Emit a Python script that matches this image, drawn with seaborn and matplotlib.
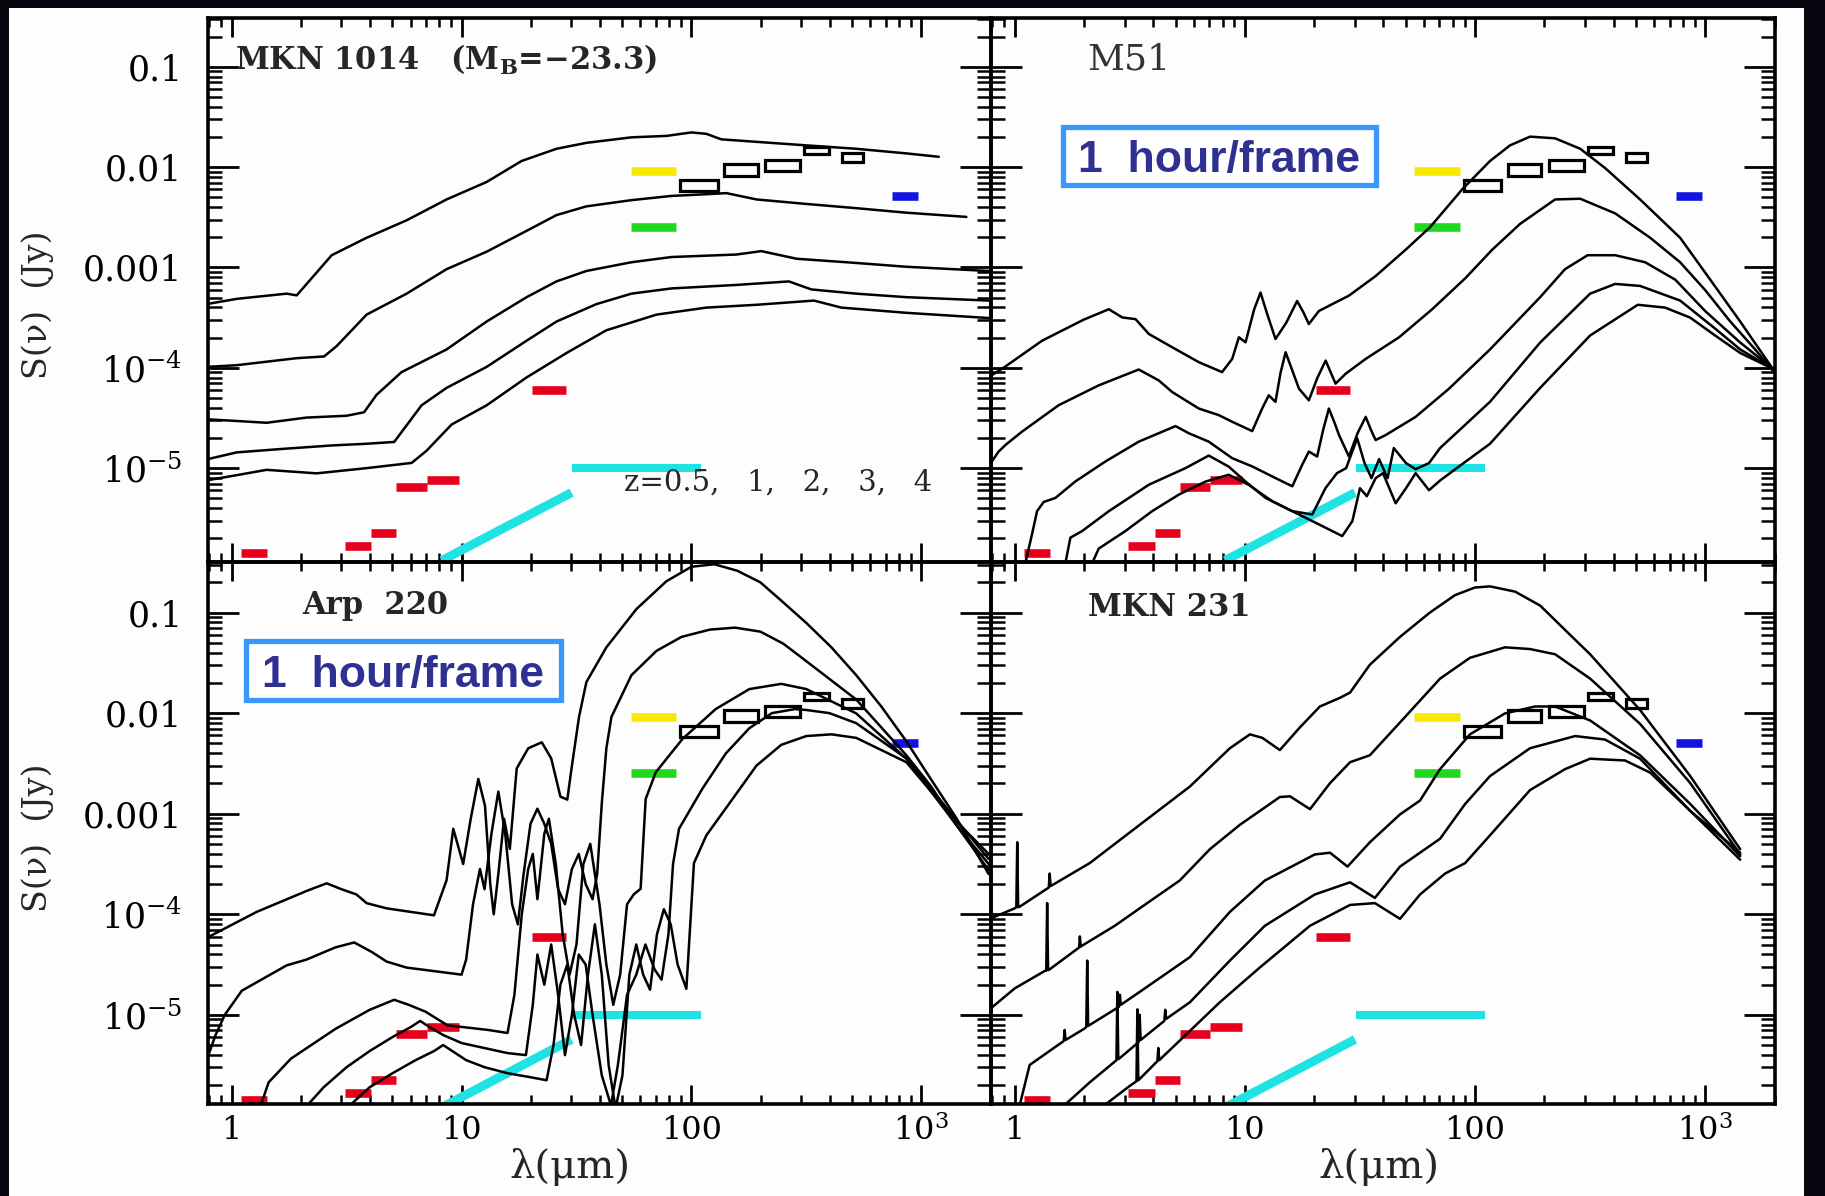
import numpy as np
import pandas as pd
import matplotlib
matplotlib.use("Agg")
import matplotlib.pyplot as plt
from matplotlib.patches import Rectangle
from matplotlib.ticker import FixedLocator, FuncFormatter, LogLocator, NullFormatter
from matplotlib import font_manager
import seaborn as sns

sns.set_theme(style="white")
plt.rcParams["font.family"] = ["DejaVu Serif"]
plt.rcParams["mathtext.fontset"] = "dejavuserif"

# ---------------------------------------------------------------------------
# Model SEDs redshifted to z = 0.5, 1, 2, 3, 4.
# Each curve: (log10 wavelength [micron], log10 S(nu) [Jy]) pairs.
# ---------------------------------------------------------------------------
Z_VALUES = [0.5, 1, 2, 3, 4]

MKN1014_SED = [
    [(-0.109, -3.365), (0.022, -3.313), (0.239, -3.261), (0.283, -3.278), (0.435, -2.878), (0.587, -2.704),
     (0.761, -2.530), (0.935, -2.322), (1.109, -2.148), (1.261, -1.939), (1.413, -1.817), (1.543, -1.758),
     (1.739, -1.703), (1.891, -1.689), (2.0, -1.654), (2.065, -1.668), (2.130, -1.723), (2.283, -1.748),
     (2.5, -1.783), (2.717, -1.817), (2.935, -1.863), (3.076, -1.897)],
    [(-0.109, -3.991), (0.022, -3.974), (0.283, -3.904), (0.402, -3.887), (0.457, -3.783), (0.587, -3.470),
     (0.761, -3.261), (0.935, -3.017), (1.109, -2.843), (1.283, -2.635), (1.413, -2.478), (1.543, -2.391),
     (1.739, -2.329), (1.913, -2.287), (2.065, -2.270), (2.152, -2.259), (2.283, -2.322), (2.5, -2.367),
     (2.717, -2.409), (2.935, -2.454), (3.196, -2.496)],
    [(-0.109, -4.513), (0.022, -4.530), (0.152, -4.548), (0.326, -4.496), (0.5, -4.478), (0.576, -4.443),
     (0.630, -4.270), (0.739, -4.043), (0.935, -3.817), (1.109, -3.539), (1.283, -3.296), (1.413, -3.139),
     (1.543, -3.035), (1.739, -2.948), (1.913, -2.896), (2.196, -2.871), (2.304, -2.837), (2.457, -2.913),
     (2.717, -2.955), (2.935, -2.993), (3.293, -3.035)],
    [(-0.109, -4.913), (0.022, -4.843), (0.217, -4.809), (0.435, -4.774), (0.587, -4.757), (0.707, -4.739),
     (0.826, -4.374), (0.935, -4.2), (1.109, -3.991), (1.283, -3.730), (1.413, -3.539), (1.587, -3.365),
     (1.739, -3.261), (1.913, -3.209), (2.196, -3.174), (2.424, -3.139), (2.522, -3.219), (2.717, -3.261),
     (2.935, -3.296), (3.293, -3.330)],
    [(-0.109, -5.122), (0.022, -5.070), (0.152, -5.017), (0.370, -5.052), (0.587, -5.0), (0.783, -4.948),
     (0.848, -4.826), (0.957, -4.565), (1.109, -4.374), (1.283, -4.096), (1.457, -3.852), (1.630, -3.626),
     (1.848, -3.470), (2.065, -3.4), (2.283, -3.372), (2.533, -3.330), (2.652, -3.400), (2.935, -3.452),
     (3.293, -3.504)],
]

M51_SED = [
    [(-0.104, -4.08), (-0.043, -3.991), (0.119, -3.730), (0.30, -3.52), (0.409, -3.416), (0.467, -3.498),
     (0.525, -3.515), (0.583, -3.663), (0.684, -3.795), (0.8, -3.944), (0.901, -4.043), (0.945, -3.911),
     (0.974, -3.696), (1.003, -3.746), (1.040, -3.42), (1.068, -3.250), (1.095, -3.45), (1.133, -3.713),
     (1.180, -3.55), (1.227, -3.334), (1.255, -3.45), (1.278, -3.564), (1.322, -3.433), (1.452, -3.281),
     (1.568, -3.086), (1.699, -2.822), (1.804, -2.6), (1.946, -2.217), (2.065, -1.939), (2.152, -1.783),
     (2.239, -1.696), (2.348, -1.713), (2.457, -1.817), (2.565, -2.009), (2.717, -2.322), (2.891, -2.704),
     (3.022, -3.122), (3.152, -3.539), (3.293, -4.009)],
    [(-0.104, -4.95), (-0.070, -4.835), (-0.040, -4.769), (0.032, -4.636), (0.191, -4.373), (0.365, -4.175),
     (0.539, -4.017), (0.626, -4.126), (0.684, -4.241), (0.8, -4.406), (0.887, -4.472), (0.945, -4.538),
     (1.032, -4.631), (1.075, -4.406), (1.104, -4.274), (1.133, -4.340), (1.155, -4.05), (1.177, -3.845),
     (1.205, -4.02), (1.235, -4.208), (1.278, -4.324), (1.315, -4.10), (1.351, -3.928), (1.394, -4.158),
     (1.438, -4.059), (1.525, -3.911), (1.670, -3.696), (1.814, -3.416), (1.960, -3.102), (2.075, -2.822),
     (2.196, -2.565), (2.348, -2.322), (2.457, -2.315), (2.609, -2.461), (2.761, -2.704), (2.891, -2.948),
     (3.0, -3.226), (3.109, -3.539), (3.217, -3.817), (3.293, -4.026)],
    [(0.046, -5.95), (0.075, -5.661), (0.097, -5.43), (0.126, -5.337), (0.177, -5.297), (0.264, -5.132),
     (0.394, -4.934), (0.539, -4.736), (0.699, -4.581), (0.757, -4.653), (0.843, -4.736), (0.945, -4.901),
     (1.032, -4.983), (1.133, -5.099), (1.206, -5.181), (1.249, -4.967), (1.278, -4.835), (1.314, -4.884),
     (1.340, -4.62), (1.365, -4.406), (1.390, -4.55), (1.409, -4.670), (1.452, -4.884), (1.490, -4.65),
     (1.525, -4.489), (1.548, -4.62), (1.568, -4.720), (1.612, -4.670), (1.742, -4.489), (1.887, -4.208),
     (2.065, -3.817), (2.283, -3.296), (2.391, -3.017), (2.489, -2.878), (2.609, -2.878), (2.739, -2.948),
     (2.870, -3.122), (3.0, -3.435), (3.152, -3.748), (3.293, -4.009)],
    [(0.220, -5.95), (0.242, -5.693), (0.293, -5.627), (0.409, -5.429), (0.583, -5.165), (0.742, -5.0),
     (0.843, -4.875), (0.930, -4.985), (1.003, -5.134), (1.090, -5.297), (1.206, -5.429), (1.293, -5.462),
     (1.35, -5.20), (1.40, -5.05), (1.44, -5.00), (1.488, -4.703), (1.52, -4.95), (1.55, -5.10),
     (1.583, -4.91), (1.62, -5.10), (1.647, -4.80), (1.70, -4.95), (1.742, -5.01), (1.80, -4.95),
     (1.848, -4.80), (2.065, -4.339), (2.283, -3.748), (2.5, -3.261), (2.609, -3.164), (2.717, -3.184),
     (2.891, -3.330), (3.043, -3.609), (3.152, -3.817), (3.293, -4.009)],
    [(0.336, -5.95), (0.365, -5.802), (0.481, -5.627), (0.597, -5.429), (0.713, -5.264), (0.829, -5.134),
     (0.930, -5.066), (1.017, -5.167), (1.119, -5.330), (1.235, -5.462), (1.322, -5.561), (1.423, -5.677),
     (1.467, -5.528), (1.50, -5.20), (1.53, -5.28), (1.568, -5.10), (1.60, -5.05), (1.655, -5.35),
     (1.70, -5.20), (1.742, -5.05), (1.80, -5.22), (1.85, -5.12), (1.95, -4.95), (2.065, -4.757),
     (2.283, -4.200), (2.5, -3.678), (2.707, -3.372), (2.826, -3.40), (2.935, -3.50), (3.043, -3.678),
     (3.152, -3.852), (3.293, -4.009)],
]

ARP220_SED = [
    [(-0.109, -4.235), (0.109, -3.976), (0.326, -3.768), (0.413, -3.692), (0.478, -3.751), (0.543, -3.803),
     (0.587, -3.889), (0.674, -3.941), (0.880, -4.010), (0.935, -3.66), (0.964, -3.15), (1.007, -3.50),
     (1.040, -3.05), (1.073, -2.654), (1.102, -2.92), (1.125, -3.7), (1.140, -4.0), (1.160, -3.6),
     (1.185, -3.05), (1.210, -3.35), (1.240, -2.55), (1.290, -2.35), (1.349, -2.29), (1.390, -2.45),
     (1.430, -2.83), (1.460, -2.86), (1.478, -2.557), (1.511, -2.038), (1.543, -1.692), (1.630, -1.346),
     (1.761, -0.965), (1.891, -0.689), (2.0, -0.545), (2.10, -0.52), (2.20, -0.585), (2.30, -0.70),
     (2.40, -0.90), (2.5, -1.104), (2.609, -1.346), (2.717, -1.623), (2.826, -1.934), (2.935, -2.280),
     (3.043, -2.661), (3.152, -3.042), (3.293, -3.60)],
    [(-0.109, -5.45), (-0.07, -5.2), (-0.03, -5.0), (0.044, -4.76), (0.239, -4.508), (0.326, -4.45),
     (0.45, -4.33), (0.533, -4.28), (0.609, -4.374), (0.674, -4.47), (0.761, -4.53), (1.0, -4.60),
     (1.02, -4.45), (1.05, -3.9), (1.08, -3.55), (1.10, -3.75), (1.13, -3.2), (1.16, -2.78), (1.19, -3.2),
     (1.22, -3.9), (1.245, -4.1), (1.27, -3.6), (1.30, -3.1), (1.33, -2.95), (1.36, -3.1), (1.39, -3.3),
     (1.42, -3.75), (1.45, -3.9), (1.48, -3.55), (1.51, -3.4), (1.54, -3.7), (1.57, -3.85), (1.59, -3.6),
     (1.61, -2.9), (1.63, -2.35), (1.652, -2.038), (1.739, -1.623), (1.848, -1.381), (1.957, -1.242),
     (2.08, -1.17), (2.19, -1.15), (2.30, -1.19), (2.40, -1.31), (2.5, -1.484), (2.717, -1.865),
     (2.935, -2.419), (3.043, -2.730), (3.152, -3.111), (3.293, -3.561)],
    [(0.122, -5.93), (0.161, -5.67), (0.258, -5.435), (0.453, -5.137), (0.60, -4.95), (0.707, -4.85),
     (0.77, -4.90), (0.843, -4.968), (0.939, -5.104), (1.116, -5.15), (1.20, -5.18), (1.23, -4.8),
     (1.262, -4.0), (1.29, -3.55), (1.31, -3.4), (1.33, -3.85), (1.36, -3.2), (1.38, -3.05), (1.41, -3.5),
     (1.44, -4.2), (1.47, -4.6), (1.50, -4.3), (1.53, -3.5), (1.56, -3.3), (1.60, -3.9), (1.63, -4.5),
     (1.66, -4.9), (1.69, -4.6), (1.72, -3.9), (1.75, -3.8), (1.779, -3.747), (1.801, -2.853),
     (1.845, -2.588), (1.961, -2.257), (2.106, -1.959), (2.252, -1.761), (2.391, -1.709), (2.5, -1.761),
     (2.717, -2.003), (2.935, -2.453), (3.152, -3.111), (3.293, -3.50)],
    [(0.317, -5.93), (0.40, -5.72), (0.50, -5.52), (0.60, -5.36), (0.70, -5.22), (0.78, -5.12),
     (0.82, -5.06), (0.86, -5.12), (0.92, -5.2), (1.0, -5.28), (1.10, -5.33), (1.20, -5.38), (1.28, -5.40),
     (1.31, -4.9), (1.33, -4.4), (1.36, -4.7), (1.39, -4.3), (1.42, -4.8), (1.45, -5.4), (1.48, -5.0),
     (1.51, -4.4), (1.54, -4.5), (1.57, -5.0), (1.61, -5.6), (1.65, -5.9), (1.68, -5.5), (1.72, -4.8),
     (1.76, -4.6), (1.80, -4.3), (1.84, -4.55), (1.87, -4.65), (1.90, -4.2), (1.92, -3.5), (1.946, -3.15),
     (2.048, -2.75), (2.15, -2.40), (2.252, -2.15), (2.35, -2.0), (2.45, -1.96), (2.5, -1.969),
     (2.6, -2.0), (2.717, -2.10), (2.935, -2.45), (3.152, -3.06), (3.293, -3.45)],
    [(0.50, -5.93), (0.60, -5.72), (0.70, -5.58), (0.80, -5.45), (0.88, -5.36), (0.92, -5.30), (0.96, -5.36),
     (1.02, -5.45), (1.10, -5.52), (1.20, -5.58), (1.30, -5.62), (1.37, -5.65), (1.40, -5.3), (1.43, -4.7),
     (1.46, -4.5), (1.49, -5.0), (1.52, -5.3), (1.55, -4.6), (1.58, -4.1), (1.61, -4.6), (1.64, -5.5),
     (1.67, -5.93), (1.70, -5.6), (1.73, -4.6), (1.76, -4.3), (1.79, -4.6), (1.82, -4.75), (1.85, -4.2),
     (1.88, -3.95), (1.91, -4.1), (1.94, -4.5), (1.978, -4.741), (2.011, -3.491), (2.065, -3.215),
     (2.174, -2.869), (2.283, -2.522), (2.391, -2.315), (2.5, -2.228), (2.609, -2.211), (2.717, -2.246),
     (2.935, -2.488), (3.152, -3.076), (3.293, -3.40)],
]

MKN231_SED = [
    [(-0.109, -4.045), (0.0, -3.941), (0.007, -3.93), (0.011, -3.284), (0.015, -3.93), (0.022, -3.924),
     (0.148, -3.734), (0.152, -3.595), (0.156, -3.72), (0.326, -3.491), (0.543, -3.111), (0.761, -2.730),
     (0.935, -2.349), (1.022, -2.211), (1.076, -2.246), (1.152, -2.367), (1.239, -2.142), (1.326, -1.934),
     (1.413, -1.848), (1.457, -1.796), (1.543, -1.519), (1.674, -1.242), (1.804, -1.0), (1.913, -0.827),
     (2.0, -0.751), (2.065, -0.740), (2.174, -0.792), (2.283, -0.931), (2.391, -1.173), (2.5, -1.415),
     (2.717, -1.969), (2.935, -2.626), (3.152, -3.353)],
    [(-0.109, -4.945), (0.0, -4.737), (0.130, -4.564), (0.137, -4.56), (0.141, -3.889), (0.145, -4.555),
     (0.152, -4.547), (0.280, -4.33), (0.283, -4.22), (0.287, -4.32), (0.435, -4.114), (0.543, -3.941),
     (0.717, -3.664), (0.848, -3.353), (0.978, -3.111), (1.152, -2.834), (1.196, -2.827), (1.283, -2.955),
     (1.370, -2.696), (1.457, -2.488), (1.543, -2.419), (1.696, -2.038), (1.848, -1.657), (1.978, -1.450),
     (2.130, -1.346), (2.239, -1.363), (2.348, -1.415), (2.5, -1.657), (2.717, -2.107), (2.935, -2.696),
     (3.152, -3.405)],
    [(0.022, -5.896), (0.065, -5.498), (0.213, -5.26), (0.217, -5.15), (0.221, -5.25), (0.304, -5.135),
     (0.311, -5.12), (0.315, -4.460), (0.319, -5.11), (0.326, -5.100), (0.453, -4.92), (0.457, -4.80),
     (0.461, -4.90), (0.543, -4.772), (0.761, -4.426), (0.935, -3.976), (1.087, -3.664), (1.304, -3.405),
     (1.370, -3.388), (1.446, -3.526), (1.543, -3.284), (1.674, -3.007), (1.761, -2.869), (1.848, -2.557),
     (1.978, -2.211), (2.130, -2.003), (2.261, -1.934), (2.348, -1.934), (2.5, -2.073), (2.717, -2.419),
     (2.935, -2.903), (3.152, -3.422)],
    [(0.217, -5.896), (0.326, -5.671), (0.435, -5.464), (0.442, -5.45), (0.446, -4.772), (0.450, -5.44),
     (0.457, -5.429), (0.539, -5.27), (0.543, -5.0), (0.547, -5.25), (0.65, -5.06), (0.654, -4.95),
     (0.658, -5.04), (0.761, -4.875), (0.935, -4.460), (1.087, -4.114), (1.304, -3.803), (1.457, -3.682),
     (1.565, -3.837), (1.674, -3.526), (1.848, -3.249), (1.957, -2.903), (2.065, -2.626), (2.239, -2.349),
     (2.435, -2.228), (2.565, -2.263), (2.717, -2.453), (2.935, -2.972), (3.152, -3.388)],
    [(0.391, -5.896), (0.5, -5.706), (0.522, -5.671), (0.529, -5.66), (0.533, -4.945), (0.537, -5.65),
     (0.543, -5.637), (0.620, -5.46), (0.624, -5.33), (0.628, -5.45), (0.717, -5.256), (0.891, -4.875),
     (1.065, -4.529), (1.283, -4.114), (1.457, -3.907), (1.565, -3.889), (1.674, -4.045), (1.761, -3.803),
     (1.870, -3.595), (1.957, -3.491), (2.065, -3.215), (2.239, -2.765), (2.391, -2.557), (2.5, -2.453),
     (2.652, -2.471), (2.761, -2.592), (2.935, -2.972), (3.152, -3.457)],
]

# ---------------------------------------------------------------------------
# Survey sensitivity limits (wavelength band in micron, flux in Jy)
# ---------------------------------------------------------------------------
RED_LO = [1.1, 3.1, 4.05, 5.2, 7.05, 20.3]
RED_HI = [1.42, 4.05, 5.2, 7.05, 9.7, 28.5]
RED_FLUX = [1.43e-6, 1.68e-6, 2.27e-6, 6.45e-6, 7.58e-6, 5.98e-5]

YELLOW_BAND = (54.5, 86.0)
YELLOW_FLUX = 9.1e-3
GREEN_BAND = (54.5, 86.0)
GREEN_FLUX = 2.55e-3
BLUE_BAND = (745.0, 965.0)
BLUE_FLUX = 5.1e-3

CYAN_FLAT_BAND = (30.3, 110.0)
CYAN_FLAT_FLUX = 1.0e-5
CYAN_SLOPE_LAM = [8.2, 30.1]
CYAN_SLOPE_FLUX = [1.2e-6, 5.7e-6]

BOX_LO = [89.5, 139.0, 209.0, 310.0, 451.0]
BOX_HI = [130.0, 194.0, 298.0, 396.0, 560.0]
BOX_BOT = [5.78e-3, 8.17e-3, 9.2e-3, 0.0135, 0.0113]
BOX_TOP = [7.46e-3, 0.0107, 0.0117, 0.0158, 0.0137]

X_TICKS = [1, 10, 100, 1000]
X_TICK_LABELS = ["1", "10", "100", r"10$^3$"]
Y_TICKS = [1e-5, 1e-4, 1e-3, 1e-2, 1e-1]
Y_TICK_LABELS = [r"10$^{-5}$", r"10$^{-4}$", "0.001", "0.01", "0.1"]

# ---------------------------------------------------------------------------
W, H = 1825, 1196
fig = plt.figure(figsize=(W / 100, H / 100), dpi=100, facecolor="#07070f")
fig.add_artist(Rectangle((9 / W, 0), (1804 - 9) / W, (H - 8) / H, transform=fig.transFigure,
                         facecolor="#fdfdfd", edgecolor="none", zorder=-10))

X_L, X_M, X_R = 207.5, 990.5, 1774.5
Y_T, Y_M, Y_B = 17.5, 562.0, 1104.0


def px_rect(x0, y0, x1, y1):
    return [x0 / W, 1 - y1 / H, (x1 - x0) / W, (y1 - y0) / H]


def sed_frame(curves):
    rows = []
    for z, pts in zip(Z_VALUES, curves):
        for i, (ll, ls) in enumerate(pts):
            rows.append({"lam": 10 ** ll, "flux": 10 ** ls, "z": f"z={z}", "step": i})
    return pd.DataFrame(rows)


def draw_limits(ax):
    ax.hlines(RED_FLUX, RED_LO, RED_HI, colors="#e6001e", linewidth=6.2, zorder=2)
    ax.hlines([YELLOW_FLUX], *YELLOW_BAND, colors="#f7ea00", linewidth=6.2, zorder=2)
    ax.hlines([GREEN_FLUX], *GREEN_BAND, colors="#1fd81f", linewidth=6.2, zorder=2)
    ax.hlines([BLUE_FLUX], *BLUE_BAND, colors="#1414e0", linewidth=6.2, zorder=2)
    ax.hlines([CYAN_FLAT_FLUX], *CYAN_FLAT_BAND, colors="#1fe3e3", linewidth=5.8, zorder=2)
    ax.plot(CYAN_SLOPE_LAM, CYAN_SLOPE_FLUX, color="#1fe3e3", linewidth=6.4,
            solid_capstyle="butt", zorder=2)
    for lo, hi, bot, top in zip(BOX_LO, BOX_HI, BOX_BOT, BOX_TOP):
        ax.add_patch(Rectangle((lo, bot), hi - lo, top - bot, facecolor="none",
                               edgecolor="black", linewidth=2.3, zorder=4))


def style_axes(ax, ylim, show_x, show_y):
    ax.set_xscale("log")
    ax.set_yscale("log")
    ax.set_xlim(0.785, 2000)
    ax.set_ylim(*ylim)
    ax.set_facecolor("none")
    ax.set_xlabel("")
    ax.set_ylabel("")
    xlab = dict(zip(X_TICKS, X_TICK_LABELS))
    ax.xaxis.set_major_locator(FixedLocator(X_TICKS))
    ax.xaxis.set_major_formatter(FuncFormatter(lambda v, p: xlab.get(round(v), "")))
    ax.xaxis.set_minor_locator(LogLocator(base=10, subs=np.arange(2, 10), numticks=50))
    ax.xaxis.set_minor_formatter(NullFormatter())
    ax.yaxis.set_major_locator(FixedLocator(Y_TICKS))
    ylab = {round(np.log10(t)): s for t, s in zip(Y_TICKS, Y_TICK_LABELS)}
    ax.yaxis.set_major_formatter(FuncFormatter(lambda v, p: ylab.get(round(np.log10(v)), "")))
    ax.yaxis.set_minor_locator(LogLocator(base=10, subs=np.arange(2, 10), numticks=50))
    ax.yaxis.set_minor_formatter(NullFormatter())
    ax.tick_params(which="both", direction="in", top=True, right=True, bottom=True, left=True,
                   color="black")
    ax.tick_params(axis="y", which="major", length=22, width=2.0)
    ax.tick_params(axis="y", which="minor", length=10, width=1.8)
    ax.tick_params(axis="x", which="major", length=14, width=2.0)
    ax.tick_params(axis="x", which="minor", length=6.5, width=1.8)
    ax.tick_params(axis="x", labelsize=23, pad=8, labelbottom=show_x, labelcolor="black")
    ax.tick_params(axis="y", labelsize=25, pad=18, labelleft=show_y, labelcolor="black")
    for sp in ax.spines.values():
        sp.set_visible(True)
        sp.set_color("black")
        sp.set_linewidth(2.6)


panels = [
    (MKN1014_SED, (X_L, Y_T, X_M, Y_M), (1.16e-6, 0.31), False, True),
    (M51_SED, (X_M, Y_T, X_R, Y_M), (1.16e-6, 0.31), False, False),
    (ARP220_SED, (X_L, Y_M, X_M, Y_B), (1.3e-6, 0.318), True, True),
    (MKN231_SED, (X_M, Y_M, X_R, Y_B), (1.3e-6, 0.318), True, False),
]

axes = []
for sed, rect, ylim, show_x, show_y in panels:
    ax = fig.add_axes(px_rect(*rect))
    ax.set_xscale("log")
    ax.set_yscale("log")
    draw_limits(ax)
    sns.lineplot(data=sed_frame(sed), x="lam", y="flux", hue="z", units="z",
                 palette=["black"] * len(Z_VALUES), estimator=None, sort=False,
                 linewidth=1.8, legend=False, ax=ax, zorder=3)
    style_axes(ax, ylim, show_x, show_y)
    axes.append(ax)

ax_mkn1014, ax_m51, ax_arp220, ax_mkn231 = axes

ax_mkn1014.text(0.0345, 0.904, r"MKN 1014   (M$_{\mathbf{B}}$=−23.3)", transform=ax_mkn1014.transAxes,
                fontsize=22, fontweight="bold", ha="left", va="baseline")
ax_mkn1014.text(0.532, 0.132, "z=0.5,   1,   2,   3,   4", transform=ax_mkn1014.transAxes,
                fontsize=21, ha="left", va="baseline")
ax_m51.text(0.124, 0.905, "M51", transform=ax_m51.transAxes, fontsize=26, color="#333333",
            ha="left", va="baseline")
ax_arp220.text(0.1207, 0.904, "Arp  220", transform=ax_arp220.transAxes, fontsize=22,
               fontweight="bold", ha="left", va="baseline")
ax_mkn231.text(0.124, 0.900, "MKN 231", transform=ax_mkn231.transAxes, fontsize=22,
               fontweight="bold", ha="left", va="baseline")

# Exposure-time call-outs
_installed = {f.name for f in font_manager.fontManager.ttflist}
if "Liberation Sans Narrow" in _installed:
    HOUR_FAMILY, HOUR_SIZE = "Liberation Sans Narrow", 38
else:
    HOUR_FAMILY, HOUR_SIZE = "Liberation Sans", 32

for (x0, y0, x1, y1) in [(1062.5, 126.5, 1376.0, 185.0), (246.0, 641.0, 561.0, 700.4)]:
    fig.add_artist(Rectangle((x0 / W, 1 - y1 / H), (x1 - x0) / W, (y1 - y0) / H,
                             transform=fig.transFigure, facecolor="white", edgecolor="#3a98fb",
                             linewidth=3.8, zorder=20))
    fig.text((x0 + x1) / 2 / W, 1 - (y0 + y1) / 2 / H, "1  hour/frame", family=[HOUR_FAMILY, "DejaVu Sans"],
             fontsize=HOUR_SIZE, fontweight="bold", color="#2e3192", ha="center", va="center_baseline",
             zorder=21)

# Axis titles
for yc in [305.0, 838.0]:
    fig.text(38 / W, 1 - yc / H, "S(ν)  (Jy)", rotation=90, fontsize=24, ha="center", va="center")
for xc in [570.0, 1379.0]:
    fig.text(xc / W, 1 - 1167 / H, "λ(μm)", fontsize=29, ha="center", va="center")

fig.savefig("out.png", dpi=100, facecolor=fig.get_facecolor())
